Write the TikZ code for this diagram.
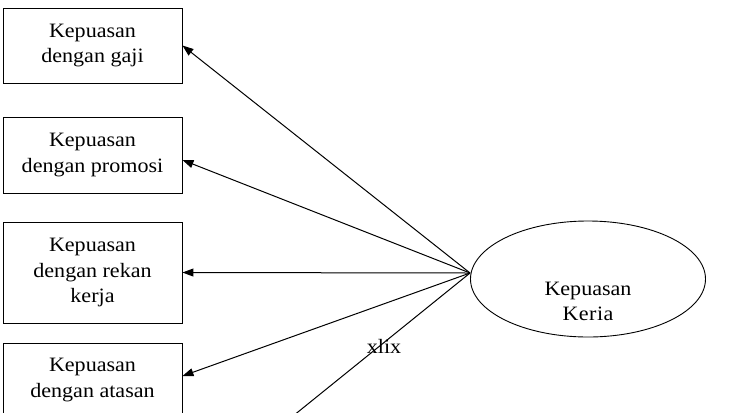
\documentclass[tikz,border=0pt]{standalone}
\usepackage{fontspec}
\setmainfont{Liberation Serif}[FakeStretch=1.08]
\usetikzlibrary{shapes.geometric,arrows.meta}
\begin{document}
\begin{tikzpicture}[x=1bp,y=-1bp,
  box/.style={draw,line width=0.9bp,minimum width=179bp,align=center,inner sep=0pt,
    font=\fontsize{20.5}{26}\selectfont},
  link/.style={line width=1bp,-{Triangle[length=11bp,width=8bp]}},
  txt/.style={align=center,inner sep=0pt,font=\fontsize{20.5}{25}\selectfont}]
\useasboundingbox (0,0) rectangle (730,412);
\clip (0,0) rectangle (730,412);
\node[box,minimum height=75bp] (b1) at (92.5,45.5) {Kepuasan\\dengan gaji};
\node[box,minimum height=76bp] (b2) at (92.5,155) {Kepuasan\\dengan promosi};
\node[box,minimum height=101bp] (b3) at (92.5,272.5) {Kepuasan\\dengan rekan\\kerja};
\node[box,minimum height=74bp] (b4) at (92.5,380) {Kepuasan\\dengan atasan};
\node[draw,ellipse,line width=0.9bp,minimum width=235bp,minimum height=116bp,inner sep=0pt] (kk) at (588,279) {};
\coordinate (hub) at ([yshift=6bp]kk.west);
\node[txt] (kt) at (588,301) {Kepuasan\\K\kern0.5pt e\kern0.5pt r\kern0.5pt i\kern0.5pt a};
\coordinate (c5) at (280,426.5);
\draw[link] (hub) -- (b1.east);
\draw[link] (hub) -- ([yshift=-5bp]b2.east);
\draw[link] (hub) -- (b3.east);
\draw[link] (hub) -- ([yshift=4bp]b4.east);
\draw[line width=1bp] (hub) -- (c5);
\node[txt,anchor=base] (pg) at (384,353) {xlix};
\end{tikzpicture}
\end{document}
